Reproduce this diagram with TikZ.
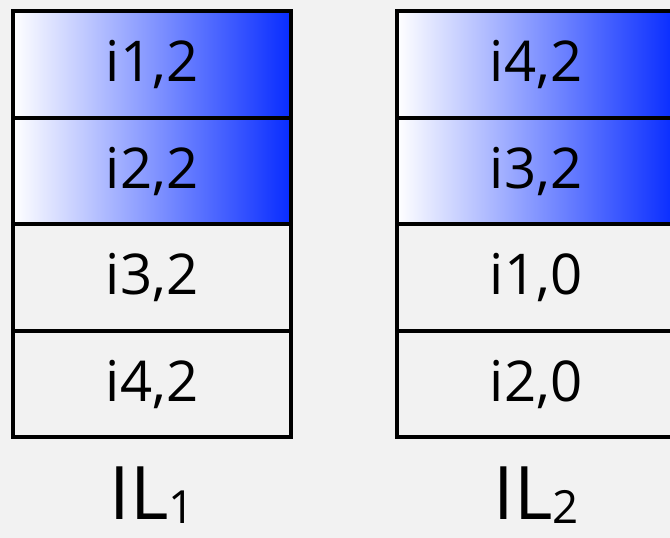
\documentclass[tikz,border=0pt]{standalone}
\usepackage{fontspec}
\setmainfont{Open Sans}
\usepackage{tikz}
\usetikzlibrary{positioning}

\definecolor{ilblue}{RGB}{8,44,255}
\definecolor{paper}{RGB}{242,242,242}

\newcommand{\ilsub}[1]{\raisebox{-1pt}{\fontsize{13}{14}\selectfont #1}}

\tikzset{
  cell/.style={draw=black, line width=1.2pt, outer sep=0pt, inner sep=0pt,
    minimum width=2.78cm, minimum height=1.065cm, font=\fontsize{16}{18}\selectfont},
  hot/.style={cell, left color=white, right color=ilblue},
  cold/.style={cell, fill=paper},
  caption/.style={font=\fontsize{21}{24}\selectfont, inner sep=0pt, anchor=base}
}

\begin{document}
\begin{tikzpicture}
		% 1. Paper background, fixes the page size
		\fill[paper] (0,0) rectangle (6.7,-5.38);
		\clip (0,0) rectangle (6.7,-5.38);
		\useasboundingbox (0,0) rectangle (6.7,-5.38);

		% 2. First list
		\node[hot] (l1) at (1.52,-0.645) {i1,2};
		\node[hot, below=0pt of l1] (l2) {i2,2};
		\node[cold, below=0pt of l2] (l3) {i3,2};
		\node[cold, below=0pt of l3] (l4) {i4,2};

		% 3. Second list (runs off the right edge)
		\node[hot] (r1) at (5.36,-0.645) {i4,2};
		\node[hot, below=0pt of r1] (r2) {i3,2};
		\node[cold, below=0pt of r2] (r3) {i1,0};
		\node[cold, below=0pt of r3] (r4) {i2,0};

		% 4. Captions
		\node[caption] (capL) at (1.52,-5.2) {IL\ilsub{1}};
		\node[caption] (capR) at (5.36,-5.2) {IL\ilsub{2}};
	\end{tikzpicture}
\end{document}
